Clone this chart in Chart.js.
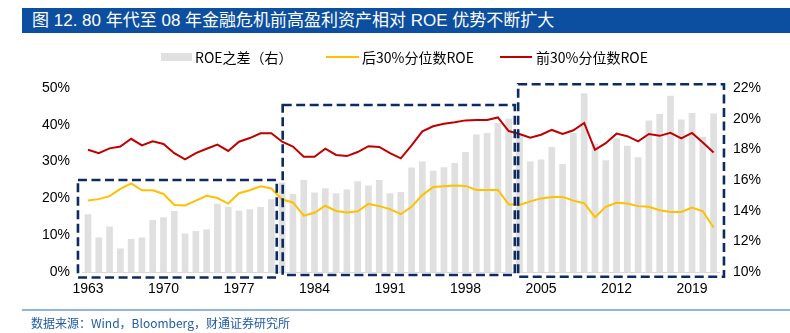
<!DOCTYPE html>
<html>
<head>
<meta charset="utf-8">
<script src="https://cdn.jsdelivr.net/npm/chart.js@4.4.0/dist/chart.umd.min.js"></script>
<style>
  html, body { margin: 0; padding: 0; background: #fff; }
  #wrap { position: relative; width: 790px; height: 333px; overflow: hidden; font-family: "Liberation Sans", Arial, "Noto Sans CJK SC", sans-serif; }
  #c { position: absolute; left: 0; top: 0; }
  #title { position: absolute; left: 22px; top: 8px; width: 768px; height: 25px; background: #0c4fa0; color: #fff;
           font-size: 17px; line-height: 25px; padding-left: 10px; box-sizing: border-box; white-space: nowrap;
           font-family: "Liberation Sans", Arial, "Noto Sans CJK SC", sans-serif; }
  #legend { position: absolute; left: 0; top: 47px; width: 790px; height: 20px; font-family: "Noto Sans CJK SC", sans-serif; font-size: 14px; color: #000; }
  .li { position: absolute; top: 0; height: 20px; line-height: 20px; white-space: nowrap; }
  .sw { position: absolute; }
  #footline { position: absolute; left: 22px; top: 309px; width: 768px; height: 2px; background: #8fb4e0; }
  #foot { position: absolute; left: 31px; top: 315px; font-size: 12px; line-height: 16px; color: #1f5aa6; white-space: nowrap;
          font-family: "Noto Sans CJK SC", sans-serif; }
</style>
</head>
<body>
<div id="wrap">
  <canvas id="c" width="790" height="333"></canvas>
  <div id="title">图 12. 80 年代至 08 年金融危机前高盈利资产相对 ROE 优势不断扩大</div>
  <div id="legend">
    <div class="sw" style="left:161px; top:6px; width:31px; height:8px; background:#e0e0e0;"></div>
    <div class="li" style="left:195px;">ROE之差（右）</div>
    <div class="sw" style="left:326px; top:9px; width:33px; height:2px; background:#ffc000;"></div>
    <div class="li" style="left:362px;">后30%分位数ROE</div>
    <div class="sw" style="left:500px; top:9px; width:32px; height:2px; background:#c00000;"></div>
    <div class="li" style="left:536px;">前30%分位数ROE</div>
  </div>
  <div id="footline"></div>
  <div id="foot">数据来源：Wind，Bloomberg，财通证券研究所</div>
</div>
<script>
const years = ["1963","1964","1965","1966","1967","1968","1969","1970","1971","1972","1973","1974","1975","1976","1977","1978","1979","1980",
  "1981","1982","1983","1984","1985","1986","1987","1988","1989","1990","1991","1992","1993","1994","1995","1996","1997","1998","1999","2000",
  "2001","2002","2003","2004","2005","2006","2007","2008","2009","2010","2011","2012","2013","2014","2015","2016","2017","2018","2019","2020","2021"];

// ROE之差（右）, right axis, %
const roeDiff = [13.76,12.25,12.96,11.54,12.16,12.25,13.39,13.57,13.98,12.51,12.68,12.77,14.45,14.26,14.0,14.1,14.24,14.75,
  15.84,15.08,16.0,15.19,15.47,15.14,15.38,15.92,15.64,16.0,15.14,15.21,16.81,17.2,16.6,16.83,17.11,17.83,18.97,19.06,
  19.72,20.0,18.95,17.2,17.33,18.15,17.05,19.06,21.65,18.37,17.29,18.73,18.24,17.48,19.88,20.31,21.5,19.94,20.37,18.82,20.33];

// 后30%分位数ROE, left axis, %
const bottom30 = [19.4,19.8,20.6,22.6,24.1,22.2,22.2,21.2,18.2,18.1,19.4,20.7,20.1,18.6,21.4,22.2,23.3,22.7,
  19.7,18.9,15.3,16.1,18.0,16.6,16.2,16.5,18.5,17.9,17.1,15.7,17.7,20.9,23.1,23.3,23.5,23.4,22.3,22.3,
  22.3,18.4,18.2,19.2,20.0,20.4,20.4,19.4,18.7,14.9,17.7,18.8,18.6,17.9,17.7,16.8,16.3,16.3,17.5,16.5,12.1];

// 前30%分位数ROE, left axis, %
const top30 = [33.2,32.3,33.6,34.1,36.2,34.4,35.5,34.8,32.3,30.6,32.3,33.5,34.6,32.9,35.4,36.4,37.7,37.7,
  35.4,34.1,31.3,31.3,33.5,31.8,31.5,32.6,34.2,34.0,32.3,30.9,34.4,38.2,39.6,40.3,40.7,41.2,41.3,41.3,
  42.0,38.3,37.5,36.5,37.3,38.6,37.5,38.5,40.5,33.2,35.0,37.6,36.9,35.5,37.5,37.0,37.8,36.3,37.8,35.2,32.5];

const leftTicks = [0, 10, 20, 30, 40, 50];
const rightTicks = [10, 12, 14, 16, 18, 20, 22];

// dashed period boxes: [x from (category index units), x to, left-axis y from, y to]
const periodBoxes = [
  [-0.93, 17.5, -1.5, 25.0],
  [18.05, 39.57, -0.8, 45.4],
  [39.88, 58.96, -1.3, 51.0]
];

const boxPlugin = {
  id: 'periodBoxes',
  afterDatasetsDraw(chart) {
    const ctx = chart.ctx, xs = chart.scales.x, ys = chart.scales.y;
    const step = xs.getPixelForValue(1) - xs.getPixelForValue(0);
    ctx.save();
    ctx.strokeStyle = '#0d2a63';
    ctx.lineWidth = 2.6;
    ctx.setLineDash([9, 4.5]);
    periodBoxes.forEach(b => {
      const x0 = xs.getPixelForValue(0) + b[0] * step;
      const x1 = xs.getPixelForValue(0) + b[1] * step;
      const y0 = ys.getPixelForValue(b[2]);
      const y1 = ys.getPixelForValue(b[3]);
      ctx.strokeRect(x0, y1, x1 - x0, y0 - y1);
    });
    ctx.restore();
  }
};

const tickFontY = { family: '"Liberation Sans Narrow", "Liberation Sans", Arial, sans-serif', size: 14 };

new Chart(document.getElementById('c'), {
  type: 'bar',
  data: {
    labels: years,
    datasets: [
      { type: 'line', label: '前30%分位数ROE', data: top30, yAxisID: 'y', borderColor: '#c00000', backgroundColor: '#c00000',
        borderWidth: 2, pointRadius: 0, tension: 0, order: 1 },
      { type: 'line', label: '后30%分位数ROE', data: bottom30, yAxisID: 'y', borderColor: '#ffc000', backgroundColor: '#ffc000',
        borderWidth: 2, pointRadius: 0, tension: 0, order: 2 },
      { type: 'bar', label: 'ROE之差（右）', data: roeDiff, yAxisID: 'y1', backgroundColor: '#e0e0e0',
        categoryPercentage: 1.0, barPercentage: 0.62, order: 3 }
    ]
  },
  options: {
    responsive: false,
    animation: false,
    devicePixelRatio: 1,
    layout: { padding: { left: 22.6, right: 11, top: 88, bottom: 31 } },
    plugins: { legend: { display: false }, title: { display: false }, tooltip: { enabled: false } },
    scales: {
      x: {
        type: 'category',
        offset: true,
        grid: { display: false, drawTicks: false },
        border: { display: true, color: '#d9d9d9', width: 1 },
        ticks: {
          autoSkip: false, maxRotation: 0, padding: 9, color: '#000',
          font: { family: '"Liberation Sans", Arial, sans-serif', size: 14 },
          callback: (v, i) => (i % 7 === 0 ? years[i] : null)
        },
        afterFit: s => { s.height = 30; }
      },
      y: {
        position: 'left', min: 0, max: 50,
        grid: { display: false, drawTicks: false },
        border: { display: false },
        afterBuildTicks: s => { s.ticks = leftTicks.map(v => ({ value: v })); },
        ticks: { padding: 12.6, color: '#000', font: tickFontY, callback: v => v + '%' },
        afterFit: s => { s.width = 60; }
      },
      y1: {
        position: 'right', min: 10, max: 22,
        grid: { display: false, drawTicks: false },
        border: { display: false },
        afterBuildTicks: s => { s.ticks = rightTicks.map(v => ({ value: v })); },
        ticks: { padding: 14, color: '#000', font: tickFontY, callback: v => v + '%' },
        afterFit: s => { s.width = 60; }
      }
    }
  },
  plugins: [boxPlugin]
});
</script>
</body>
</html>
